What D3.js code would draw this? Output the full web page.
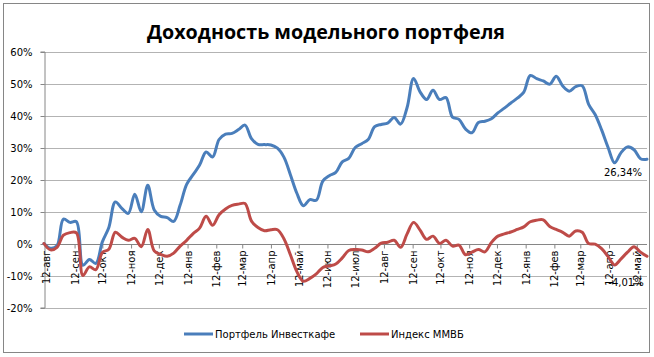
<!DOCTYPE html>
<html>
<head>
<meta charset="utf-8">
<script src="https://cdn.jsdelivr.net/npm/d3@7"></script>
<style>
  html, body { margin: 0; padding: 0; background: #fff; }
  svg { display: block; }
  text { font-family: "DejaVu Sans", sans-serif; }
</style>
</head>
<body>
<script>
// ---- data ----
const title = "Доходность модельного портфеля";
const seriesNames = ["Портфель Инвесткафе", "Индекс ММВБ"];
const firstDate = "2012-08-10"; // weekly observations (Fridays)
const portfolio = [
  0, -1.5, -0.7, 7.6, 6.6, 6.8, -6.8, -5, -6.2, 0.5,
  5, 13, 11, 9.4, 15.4, 9.9, 18.2, 10.5, 8.5, 8.1,
  6.9, 12, 18.5, 21.5, 24.5, 28.6, 27, 32.5, 34.2, 34.4,
  35.6, 37, 32.8, 31, 30.9, 30.8, 29.8, 27, 21.5, 15.7,
  11.8, 13.7, 13.5, 19.5, 21.2, 22.2, 25.5, 26.6, 30, 31.2,
  32.5, 36.5, 37.2, 37.6, 39.4, 37.3, 42.5, 51.6, 47.4, 45,
  47.9, 45, 45.6, 39.5, 38.8, 35.8, 34.6, 37.8, 38.2, 39,
  40.8, 42.3, 43.9, 45.4, 47.3, 52.5, 51.5, 50.8, 49.8, 52.3,
  49.2, 47.6, 49, 49.3, 43.5, 40.3, 35.5, 30, 25.2, 28.4,
  30.2, 29.3, 26.5, 26.34
];
const micex = [
  0, -2, -1.2, 2.6, 3.4, 3.3, -10, -7.3, -8.2, -2.8,
  -1.8, 3.5, 2, 1, 1.6, -1, 4.4, -2.3, -3.4, -4,
  -3, -0.8, 1, 3.1, 4.8, 8.5, 5.7, 9, 10.8, 11.9,
  12.3, 12.5, 7, 5, 4, 4.3, 4.3, 1.5, -3.5, -8.8,
  -11.8, -10.9, -9.5, -7.5, -7, -6.4, -4.5, -2.2, -1.9, -2,
  -2.6, -1.5, 0.1, 0.4, 1, -1.2, 3, 6.6, 4.2, 1.3,
  2.3, 0, 1, -0.8, -0.5, -3.5, -2.7, -1.9, -2.6, 0.3,
  2.3, 3, 3.6, 4.4, 5.2, 6.8, 7.3, 7.4, 5.3, 4.4,
  3.5, 2.3, 3.9, 3.5, 0, -0.2, -1.6, -4.1, -6.7, -4.8,
  -2.7, -1, -2.7, -4.01
];
const tickLabels = ["12-авг","12-сен","12-окт","12-ноя","12-дек","12-янв","12-фев","12-мар","12-апр","12-май","12-июн",
                    "12-июл","12-авг","12-сен","12-окт","12-ноя","12-дек","12-янв","12-фев","12-мар","12-апр","12-май"];
const yTicks = [-20, -10, 0, 10, 20, 30, 40, 50, 60];
const lastLabels = ["26,34%", "-4,01%"];

// ---- layout ----
const W = 654, H = 357;
const colors = ["#4a7ebb", "#be4b48"];
const parse = d3.timeParse("%Y-%m-%d");
const start = parse(firstDate);
const dates = portfolio.map((_, i) => d3.timeDay.offset(start, 7 * i));
const tickDates = d3.timeMonth.range(new Date(2012, 7, 1), new Date(2014, 5, 1))
  .map(d => new Date(d.getFullYear(), d.getMonth(), 12));

const x = d3.scaleTime().domain([dates[0], dates[dates.length - 1]]).range([44, 647]);
const y = d3.scaleLinear().domain([-20, 60]).range([307.5, 51.5]);

const svg = d3.select("body").append("svg").attr("width", W).attr("height", H);
svg.append("rect").attr("x", 0).attr("y", 0).attr("width", W).attr("height", H).attr("fill", "#fff");
svg.append("rect").attr("x", 3.5).attr("y", 3.5).attr("width", 646).attr("height", 349)
  .attr("fill", "none").attr("stroke", "#868686").attr("stroke-width", 1);

svg.append("text").attr("x", 326).attr("y", 39).attr("text-anchor", "middle")
  .attr("textLength", 358).attr("lengthAdjust", "spacingAndGlyphs")
  .style("font-family", "'Open Sans', sans-serif").style("font-weight", "bold").style("font-size", "19px")
  .attr("fill", "#000").text(title);

// gridlines
svg.append("g").selectAll("line").data(yTicks.filter(t => t !== 0)).join("line")
  .attr("x1", 44).attr("x2", 647)
  .attr("y1", d => Math.round(y(d)) + 0.5).attr("y2", d => Math.round(y(d)) + 0.5)
  .attr("stroke", "#b3b3b3").attr("stroke-width", 1);

// y axis
const yAxis = d3.axisLeft(y).tickValues(yTicks).tickSize(4).tickPadding(8).tickFormat(d => d + "%");
const gy = svg.append("g").attr("transform", "translate(44.5,0)").call(yAxis);
gy.select(".domain").attr("stroke", "#868686");
gy.selectAll(".tick line").attr("stroke", "#868686");
gy.selectAll(".tick text").style("font-size", "10px").attr("fill", "#000");
gy.selectAll(".tick").attr("transform", d => `translate(0,${Math.round(y(d)) + 0.5})`);

// x axis at 0%
const y0 = Math.round(y(0)) + 0.5;
const xAxis = d3.axisBottom(x).tickValues(tickDates).tickSize(4).tickFormat((d, i) => tickLabels[i]);
const gx = svg.append("g").attr("transform", `translate(0,${y0})`).call(xAxis);
gx.select(".domain").attr("stroke", "#868686").attr("d", `M44,0H647`);
gx.selectAll(".tick line").attr("stroke", "#868686");
gx.selectAll(".tick text")
  .style("font-size", "10px").attr("fill", "#000")
  .attr("text-anchor", "end").attr("transform", "rotate(-90)")
  .attr("x", -6).attr("y", 0).attr("dy", "0.35em");

// series
const line = d3.line().x((d, i) => x(dates[i])).y(d => y(d)).curve(d3.curveCatmullRom.alpha(0.5));
[portfolio, micex].forEach((s, k) => {
  svg.append("path").datum(s).attr("d", line)
    .attr("fill", "none").attr("stroke", colors[k]).attr("stroke-width", 3)
    .attr("stroke-linejoin", "round").attr("stroke-linecap", "round");
});

// end labels
svg.append("text").attr("x", x(dates[dates.length - 1]) - 24).attr("y", y(portfolio[portfolio.length - 1]) + 17)
  .attr("text-anchor", "middle").style("font-size", "10px").attr("fill", "#000").text(lastLabels[0]);
svg.append("text").attr("x", x(dates[dates.length - 1]) - 21).attr("y", y(micex[micex.length - 1]) + 30)
  .attr("text-anchor", "middle").style("font-size", "10px").attr("fill", "#000").text(lastLabels[1]);

// legend
const legX = [184, 360];
seriesNames.forEach((n, k) => {
  svg.append("line").attr("x1", legX[k]).attr("x2", legX[k] + 29).attr("y1", 334).attr("y2", 334)
    .attr("stroke", colors[k]).attr("stroke-width", 3);
  svg.append("text").attr("x", legX[k] + 31).attr("y", 334).attr("dy", "0.35em")
    .style("font-size", "10px").attr("fill", "#000").text(n);
});
</script>
</body>
</html>
